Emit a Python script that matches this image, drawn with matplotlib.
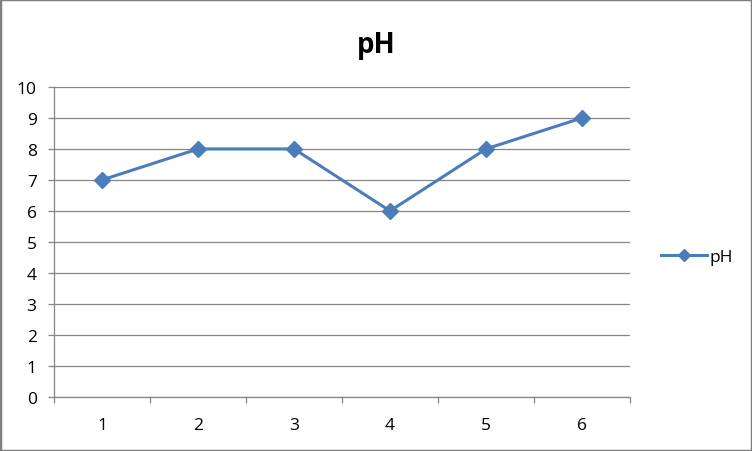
import numpy as np
import matplotlib
matplotlib.use('Agg')
import matplotlib.pyplot as plt
from matplotlib.patches import Rectangle

plt.rcParams['font.family'] = ['Open Sans', 'DejaVu Sans']

categories = ['1', '2', '3', '4', '5', '6']
ph = [7, 8, 8, 6, 8, 9]

blue = '#4A7EBB'
grid = '#868686'

fig = plt.figure(figsize=(7.52, 4.52), dpi=100)
fig.patches.append(Rectangle((0, 0), 1, 1, transform=fig.transFigure,
                             fill=False, edgecolor='#808080', linewidth=2.5))

ax = fig.add_axes([0.0718, 0.1195, 0.766, 0.686])
x = np.arange(len(categories))
line, = ax.plot(x, ph, color=blue, linewidth=2.2, marker='D',
                markersize=8, markerfacecolor=blue, markeredgecolor=blue,
                label='pH', zorder=3)

ax.set_xlim(-0.5, len(categories) - 0.5)
ax.set_ylim(0, 10)
ax.set_yticks(range(0, 11))
ax.yaxis.grid(True, color=grid, linewidth=0.9)
ax.set_axisbelow(True)

# category labels centred, ticks on the boundaries
ax.set_xticks(x)
ax.set_xticklabels(categories)
ax.tick_params(axis='x', length=0, pad=14.5, labelsize=12.5)
ax.set_xticks(np.arange(-0.5, len(categories)), minor=True)
ax.tick_params(axis='x', which='minor', length=4.5, color=grid, width=0.9)
ax.tick_params(axis='y', length=4.5, color=grid, width=0.9, labelsize=12.5, pad=8)

for side in ['top', 'right']:
    ax.spines[side].set_visible(False)
for side in ['left', 'bottom']:
    ax.spines[side].set_color(grid)
    ax.spines[side].set_linewidth(0.9)

fig.text(0.5, 0.9, 'pH', ha='center', va='center', fontsize=20, fontweight='bold')

fig.legend(handles=[line], loc='center left', bbox_to_anchor=(0.868, 0.43),
           frameon=False, fontsize=12.5, handlelength=2.6, handletextpad=0.15,
           borderpad=0, markerscale=0.8)

fig.savefig('out.png', dpi=100)
